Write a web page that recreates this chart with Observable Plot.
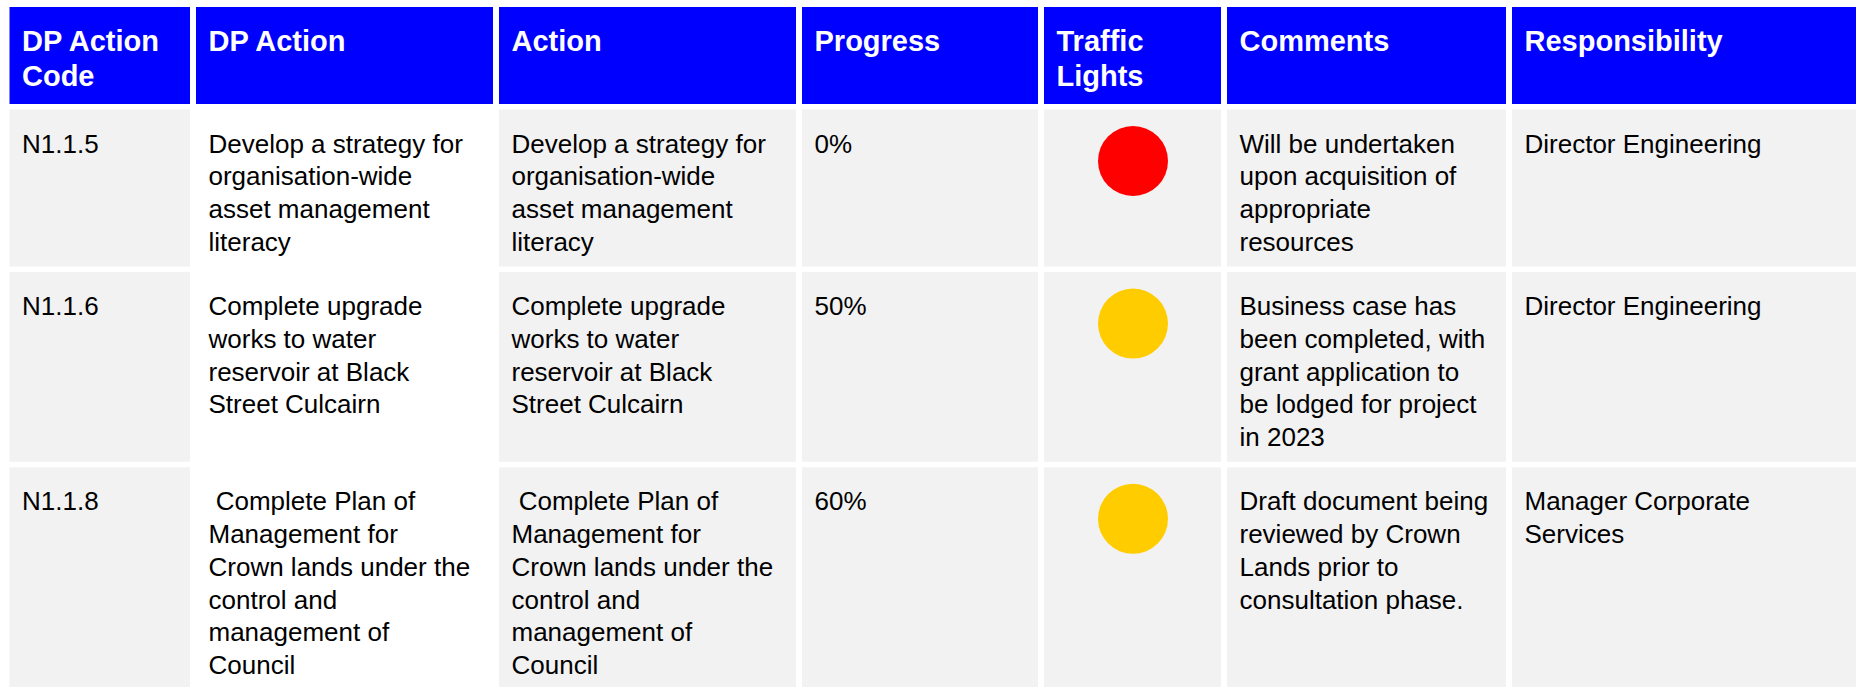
<!DOCTYPE html>
<html>
<head>
<meta charset="utf-8">
<script src="https://cdn.jsdelivr.net/npm/d3@7"></script>
<script src="https://cdn.jsdelivr.net/npm/@observablehq/plot@0.6"></script>
<style>
  html, body { margin: 0; padding: 0; background: #ffffff; }
  svg text { white-space: pre; }
</style>
</head>
<body>
<div id="chart"></div>
<script>
// ---------- data ----------
const headers = ["DP Action\nCode", "DP Action", "Action", "Progress", "Traffic\nLights", "Comments", "Responsibility"];
const codes = ["N1.1.5", "N1.1.6", "N1.1.8"];
const dpActions = [
  "Develop a strategy for\norganisation-wide\nasset management\nliteracy",
  "Complete upgrade\nworks to water\nreservoir at Black\nStreet Culcairn",
  " Complete Plan of\nManagement for\nCrown lands under the\ncontrol and\nmanagement of\nCouncil"
];
const actions = [
  "Develop a strategy for\norganisation-wide\nasset management\nliteracy",
  "Complete upgrade\nworks to water\nreservoir at Black\nStreet Culcairn",
  " Complete Plan of\nManagement for\nCrown lands under the\ncontrol and\nmanagement of\nCouncil"
];
const progress = [0, 50, 60];
const trafficLights = ["Red", "Amber", "Amber"];
const comments = [
  "Will be undertaken\nupon acquisition of\nappropriate\nresources",
  "Business case has\nbeen completed, with\ngrant application to\nbe lodged for project\nin 2023",
  "Draft document being\nreviewed by Crown\nLands prior to\nconsultation phase."
];
const responsibility = ["Director Engineering", "Director Engineering", "Manager Corporate\nServices"];
const lightNames = ["Red", "Amber", "Green"];
const lightColors = ["#ff0000", "#ffcc00", "#00b050"];

// ---------- layout (not data) ----------
const W = 1856, H = 687;
const left0 = 9.5, top0 = 7;
const colWidths = [180.5, 297, 297, 236, 177, 279, 344];
const colGap = 6, rowGap = 5.5;
const headFont = 29, headLH = 1.23, headHeight = 97, headBase = 43;
const bodyFont = 26, bodyLH = 1.26, bodyPad = 26, bodyBase = 42.5;
const padX = 12;
const lightR = 35, lightOffset = 51;

const colX = [];
{ let x = left0; for (const w of colWidths) { colX.push([x, x + w]); x += w + colGap; } }

const rowTexts = codes.map((c, i) => [
  codes[i], dpActions[i], actions[i], `${progress[i]}%`, "", comments[i], responsibility[i]
]);

const rowY = [];
{
  let y = top0 + headHeight + rowGap;
  for (const texts of rowTexts) {
    const lines = d3.max(texts, t => t.split("\n").length);
    const h = bodyPad + lines * bodyFont * bodyLH;
    rowY.push([y, y + h]);
    y += h + rowGap;
  }
}

const headCells = headers.map((t, c) => ({x1: colX[c][0], x2: colX[c][1], y1: top0, y2: top0 + headHeight, text: t}));
const bodyCells = [];
rowTexts.forEach((texts, r) => texts.forEach((t, c) => bodyCells.push({
  x1: colX[c][0], x2: colX[c][1], y1: rowY[r][0], y2: rowY[r][1], text: t, col: c
})));
const lights = trafficLights.map((s, r) => ({
  x: (colX[4][0] + colX[4][1]) / 2, y: rowY[r][0] + lightOffset, status: s
}));

const chart = Plot.plot({
  width: W,
  height: H,
  margin: 0,
  x: {domain: [0, W], range: [0, W], axis: null},
  y: {domain: [0, H], range: [0, H], axis: null},
  color: {domain: lightNames, range: lightColors},
  style: {fontFamily: "'Liberation Sans', Arial, sans-serif", background: "#ffffff"},
  marks: [
    Plot.rect(headCells, {x1: "x1", x2: "x2", y1: "y1", y2: "y2", fill: "#0000ff"}),
    Plot.rect(bodyCells.filter(d => d.col !== 1), {x1: "x1", x2: "x2", y1: "y1", y2: "y2", fill: "#f2f2f2"}),
    Plot.text(headCells, {
      x: d => d.x1 + padX, y: d => d.y1 + headBase - 0.71 * headLH * headFont,
      text: "text", textAnchor: "start", lineAnchor: "top",
      fontSize: headFont, fontWeight: "bold", lineHeight: headLH, fill: "#ffffff"
    }),
    Plot.text(bodyCells, {
      x: d => d.x1 + padX, y: d => d.y1 + bodyBase - 0.71 * bodyLH * bodyFont,
      text: "text", textAnchor: "start", lineAnchor: "top",
      fontSize: bodyFont, lineHeight: bodyLH, fill: "#000000"
    }),
    Plot.dot(lights, {x: "x", y: "y", r: lightR, fill: "status", stroke: null})
  ]
});
document.getElementById("chart").appendChild(chart);
</script>
</body>
</html>
